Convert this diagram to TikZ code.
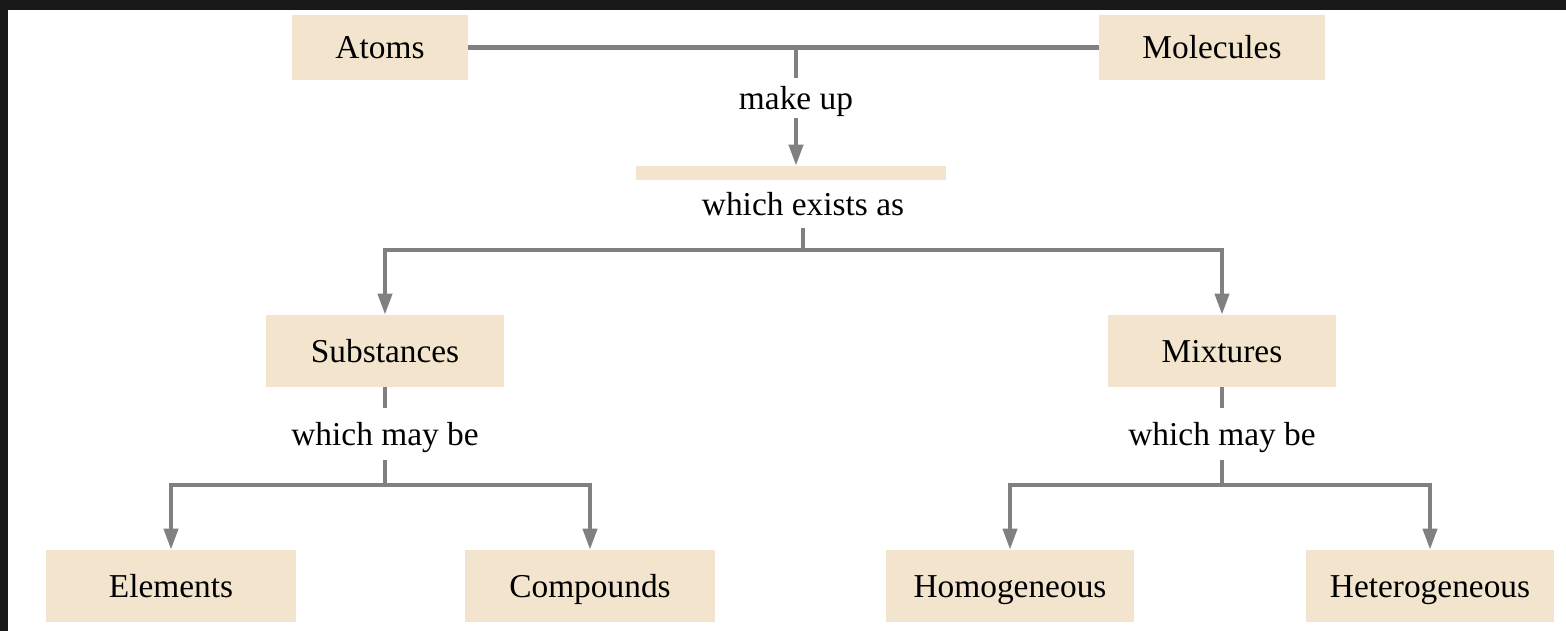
\documentclass[tikz,border=0pt]{standalone}
\usepackage{fontspec}
\setmainfont{Liberation Serif}
\usetikzlibrary{arrows.meta,positioning}
\definecolor{boxfill}{RGB}{242,228,205}
\definecolor{linegray}{RGB}{128,128,128}
\tikzset{
  box/.style={fill=boxfill, inner sep=0pt, text height=15pt, text depth=2pt, font=\fontsize{19}{23}\selectfont},
  bar/.style={fill=boxfill, inner sep=0pt, minimum width=6.22cm, minimum height=0.28cm},
  label/.style={inner sep=0pt, text height=15pt, text depth=2pt, font=\fontsize{19}{23}\selectfont},
  conn/.style={draw=linegray, line width=2.3pt},
  arr/.style={conn, -{Triangle[length=12pt,width=8pt]}}
}
\begin{document}
\begin{tikzpicture}[x=0.02cm, y=-0.02cm]
\useasboundingbox (0,0) rectangle (1566,631);
\fill[black!90] (0,0) rectangle (1566,631);
\fill[white] (8,10) rectangle (1566,631);
\node[style=box, minimum width=3.52cm, minimum height=1.3cm] (atoms) at (380,47.5) {Atoms};
\node[style=box, minimum width=4.52cm, minimum height=1.3cm] (molecules) at (1212,47.5) {Molecules};
\node[style=label, minimum height=0.8cm] (makeup) at (796,98) {make up};
\node[style=bar] (matter) at (791,173) {};
\node[style=label, minimum height=0.96cm] (exists) at (803,204) {which exists as};
\node[style=box, minimum width=4.76cm, minimum height=1.44cm] (subst) at (385,351) {Substances};
\node[style=box, minimum width=4.58cm, minimum height=1.44cm] (mixt) at (1222,351) {Mixtures};
\node[style=label, minimum height=1.04cm] (maybe1) at (385,434) {which may be};
\node[style=label, minimum height=1.04cm] (maybe2) at (1222,434) {which may be};
\node[style=box, minimum width=5cm, minimum height=1.44cm] (elem) at (171,586) {Elements};
\node[style=box, minimum width=5.02cm, minimum height=1.44cm] (comp) at (590,586) {Compounds};
\node[style=box, minimum width=4.98cm, minimum height=1.44cm] (homo) at (1010,586) {Homogeneous};
\node[style=box, minimum width=4.98cm, minimum height=1.44cm] (hetero) at (1430,586) {Heterogeneous};
\coordinate (j1) at (796,48);
\coordinate (j2) at (803,250);
\coordinate (j3) at (385,485);
\coordinate (j4) at (1222,485);
\draw[style=conn] (atoms) -- (molecules);
\draw[style=conn] (j1) -- (makeup);
\draw[style=arr] (makeup) -- (makeup |- matter.north);
\draw[style=conn] (exists) -- (j2);
\draw[style=arr] (j2) -| (subst);
\draw[style=arr] (j2) -| (mixt);
\draw[style=conn] (subst) -- (maybe1);
\draw[style=conn] (maybe1) -- (j3);
\draw[style=arr] (j3) -| (elem);
\draw[style=arr] (j3) -| (comp);
\draw[style=conn] (mixt) -- (maybe2);
\draw[style=conn] (maybe2) -- (j4);
\draw[style=arr] (j4) -| (homo);
\draw[style=arr] (j4) -| (hetero);
\end{tikzpicture}
\end{document}
